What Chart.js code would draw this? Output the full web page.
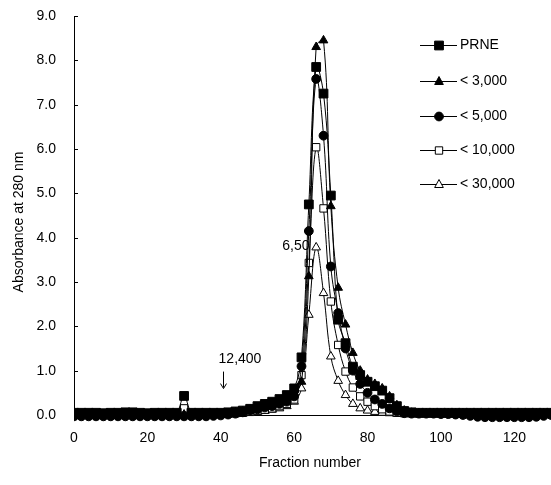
<!DOCTYPE html>
<html>
<head>
<meta charset="utf-8">
<script src="https://cdn.jsdelivr.net/npm/chart.js@4.4.1/dist/chart.umd.min.js"></script>
<style>
html,body{margin:0;padding:0;background:#fff;}
#c{display:block;}
</style>
</head>
<body>
<canvas id="c" width="551" height="485"></canvas>
<script>
// ---- data ----
const fractions = [0,2,4,6,8,10,12,14,16,18,20,22,24,26,28,30,32,34,36,38,40,42,44,46,48,50,52,54,56,58,60,62,64,66,68,70,72,74,76,78,80,82,84,86,88,90,92,94,96,98,100,102,104,106,108,110,112,114,116,118,120,122,124,126,128,130];
const seriesNames = ["PRNE", "< 3,000", "< 5,000", "< 10,000", "< 30,000"];
const prne = [0.05,0.05,0.05,0.05,0.04,0.05,0.05,0.06,0.06,0.05,0.04,0.05,0.05,0.05,0.05,0.43,0.05,0.05,0.05,0.05,0.05,0.06,0.08,0.10,0.14,0.20,0.25,0.30,0.36,0.45,0.60,1.30,4.75,7.85,7.25,4.95,2.15,1.62,1.09,0.90,0.75,0.65,0.55,0.38,0.20,0.09,0.06,0.05,0.05,0.05,0.05,0.05,0.05,0.05,0.05,0.05,0.05,0.05,0.05,0.05,0.05,0.05,0.05,0.05,0.05,0.05];
const lt3000 = [0.01,0.01,0.01,0.01,0.01,0.01,0.01,0.01,0.01,0.01,0.01,0.01,0.01,0.01,0.01,0.01,0.01,0.01,0.01,0.01,0.02,0.04,0.06,0.08,0.12,0.16,0.20,0.25,0.30,0.38,0.50,0.75,3.13,8.30,8.45,4.71,2.87,2.04,1.40,1.00,0.80,0.70,0.60,0.42,0.22,0.10,0.05,0.04,0.04,0.04,0.04,0.04,0.04,0.04,0.03,0.02,0.02,0.02,0.02,0.02,0.02,0.02,0.02,0.03,0.04,0.04];
const lt5000 = [-0.03,-0.03,-0.03,-0.03,-0.03,-0.03,-0.03,-0.03,-0.03,-0.03,-0.03,-0.03,-0.03,-0.03,-0.03,-0.03,-0.03,-0.03,-0.03,-0.02,-0.01,0.01,0.03,0.06,0.10,0.13,0.17,0.20,0.25,0.30,0.42,1.10,4.15,7.58,6.30,3.35,2.30,1.50,1.00,0.70,0.50,0.35,0.25,0.15,0.08,0.04,0.03,0.03,0.03,0.03,0.02,0.02,0.01,0.00,-0.02,-0.04,-0.05,-0.05,-0.05,-0.05,-0.05,-0.05,-0.05,-0.04,-0.02,0.00];
const lt10000 = [0.03,0.03,0.03,0.03,0.03,0.03,0.03,0.03,0.03,0.03,0.03,0.03,0.03,0.03,0.03,0.15,0.03,0.03,0.03,0.03,0.03,0.03,0.04,0.05,0.07,0.10,0.12,0.15,0.20,0.25,0.35,0.90,3.43,6.04,4.66,2.56,1.58,0.98,0.62,0.42,0.30,0.20,0.13,0.08,0.05,0.04,0.04,0.04,0.04,0.04,0.04,0.04,0.04,0.04,0.04,0.04,0.04,0.04,0.04,0.04,0.04,0.04,0.04,0.04,0.04,0.04];
const lt30000 = [0.00,0.00,0.00,0.00,0.00,0.00,0.00,0.00,0.00,0.00,0.00,0.00,0.00,0.00,0.00,0.01,0.00,0.00,0.00,0.00,0.00,0.01,0.02,0.03,0.05,0.07,0.09,0.12,0.15,0.20,0.30,0.60,2.26,3.78,2.75,1.32,0.77,0.45,0.25,0.15,0.10,0.07,0.05,0.04,0.03,0.03,0.03,0.03,0.03,0.03,0.03,0.03,0.03,0.03,0.03,0.03,0.03,0.03,0.03,0.03,0.03,0.03,0.03,0.03,0.03,0.03];
const xTickStep = 20;
const yTickStep = 1;
const annotations = [
  {text: "12,400", x: 40.6, y: 1.25, arrow: true},
  {text: "6,50", x: 64.2, y: 3.82, arrow: false}
];

// ---- styles ----
const styles = [
  {pointStyle:'rect', radius:6.2, fill:'#000'},
  {pointStyle:'triangle', radius:5, fill:'#000'},
  {pointStyle:'circle', radius:4.4, fill:'#000'},
  {pointStyle:'rect', radius:5.2, fill:'#fff'},
  {pointStyle:'triangle', radius:5, fill:'#fff'}
];
const allSeries = [prne, lt3000, lt5000, lt10000, lt30000];

const datasets = allSeries.map((vals, i) => ({
  label: seriesNames[i],
  data: fractions.map((f, j) => ({x: f, y: vals[j]})),
  borderColor: '#000',
  borderWidth: 1,
  pointStyle: styles[i].pointStyle,
  pointRadius: styles[i].radius,
  pointBackgroundColor: styles[i].fill,
  pointBorderColor: '#000',
  pointBorderWidth: 1,
  tension: 0.4,
  fill: false,
  clip: {left: 0, right: 0, top: 10, bottom: 10}
}));

const FONT = '"Liberation Sans", Arial, sans-serif';

function drawMarker(ctx, style, x, y) {
  ctx.save();
  ctx.fillStyle = style.fill;
  ctx.strokeStyle = '#000';
  ctx.lineWidth = 1;
  ctx.beginPath();
  const r = style.radius;
  if (style.pointStyle === 'rect') {
    const s = r * Math.SQRT1_2;
    ctx.rect(x - s, y - s, 2 * s, 2 * s);
  } else if (style.pointStyle === 'circle') {
    ctx.arc(x, y, r, 0, Math.PI * 2);
  } else if (style.pointStyle === 'triangle') {
    ctx.moveTo(x, y - r);
    ctx.lineTo(x + r * 0.866, y + r * 0.6);
    ctx.lineTo(x - r * 0.866, y + r * 0.6);
    ctx.closePath();
  }
  ctx.fill();
  ctx.stroke();
  ctx.restore();
}

const decor = {
  id: 'decor',
  afterDraw(chart) {
    const ctx = chart.ctx;
    const xs = chart.scales.x, ys = chart.scales.y;
    const area = chart.chartArea;
    ctx.save();
    // inward y ticks
    ctx.strokeStyle = '#000';
    ctx.lineWidth = 1;
    ys.ticks.forEach(t => {
      const py = Math.round(ys.getPixelForValue(t.value)) + 0.5;
      ctx.beginPath();
      ctx.moveTo(area.left, py);
      ctx.lineTo(area.left + 4, py);
      ctx.stroke();
    });
    // axis titles
    ctx.fillStyle = '#000';
    ctx.font = '14px ' + FONT;
    ctx.textAlign = 'center';
    ctx.textBaseline = 'middle';
    ctx.fillText('Fraction number', 310, 463);
    ctx.save();
    ctx.translate(19, 222);
    ctx.rotate(-Math.PI / 2);
    ctx.fillText('Absorbance at 280 nm', 0, 0);
    ctx.restore();
    // annotations
    annotations.forEach(a => {
      const px = xs.getPixelForValue(a.x);
      const py = ys.getPixelForValue(a.y);
      if (a.arrow) {
        ctx.textAlign = 'center';
        ctx.fillText(a.text, px + 17, py);
        ctx.beginPath();
        ctx.moveTo(Math.round(px) + 0.5, py + 12);
        ctx.lineTo(Math.round(px) + 0.5, py + 28);
        ctx.stroke();
        ctx.beginPath();
        ctx.moveTo(Math.round(px) - 2.5, py + 24);
        ctx.lineTo(Math.round(px) + 0.5, py + 29);
        ctx.lineTo(Math.round(px) + 3.5, py + 24);
        ctx.stroke();
      } else {
        ctx.textAlign = 'right';
        ctx.fillText(a.text, px, py);
      }
    });
    // legend
    const rows = [45, 81, 116, 150, 184];
    ctx.textAlign = 'left';
    seriesNames.forEach((name, i) => {
      const y = rows[i];
      ctx.beginPath();
      ctx.moveTo(420, y + 0.5);
      ctx.lineTo(457, y + 0.5);
      ctx.stroke();
      drawMarker(ctx, styles[i], 439, y + 0.5);
      ctx.fillStyle = '#000';
      ctx.fillText(name, 460, y);
    });
    ctx.restore();
  }
};

new Chart(document.getElementById('c'), {
  type: 'line',
  data: { datasets },
  options: {
    responsive: false,
    animation: false,
    devicePixelRatio: 1,
    layout: { autoPadding: false, padding: { top: 16, right: 0, left: 0, bottom: 0 } },
    plugins: { legend: { display: false }, tooltip: { enabled: false } },
    scales: {
      x: {
        type: 'linear',
        min: 0, max: 130,
        grid: { display: false, drawTicks: false },
        border: { display: true, color: '#000', width: 1 },
        ticks: { stepSize: xTickStep, includeBounds: false, color: '#000', font: { size: 14, family: FONT }, padding: 15, maxRotation: 0 },
        afterFit(s) { s.height = 70; s.paddingLeft = 0; s.paddingRight = 0; }
      },
      y: {
        min: 0, max: 9,
        grid: { display: false, drawTicks: false },
        border: { display: true, color: '#000', width: 1 },
        ticks: { stepSize: yTickStep, color: '#000', font: { size: 14, family: FONT }, padding: 18, callback: v => v.toFixed(1) },
        afterFit(s) { s.width = 74; s.paddingTop = 0; s.paddingBottom = 0; }
      }
    }
  },
  plugins: [decor]
});
</script>
</body>
</html>
